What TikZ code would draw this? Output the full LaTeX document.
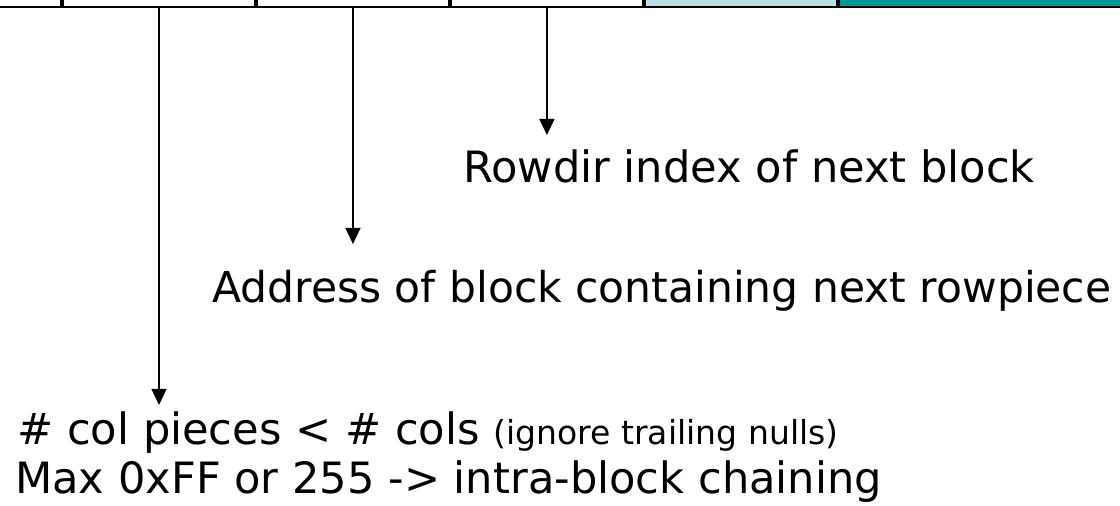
\documentclass[tikz,border=0pt]{standalone}
\usepackage{fontspec}
\setmainfont{DejaVu Sans}
\usepackage{tikz}
\usetikzlibrary{arrows.meta,positioning}
\usepackage{xcolor}
\definecolor{paleteal}{HTML}{BBE0E3}
\definecolor{deepteal}{HTML}{009999}

\begin{document}
\begin{tikzpicture}[node distance=0pt,
  cell/.style={draw,line width=1.4pt,rectangle,minimum width=4.8cm,minimum height=1.2cm,inner sep=0pt},
  ptr/.style={-{Triangle[width=0.375cm,length=0.4cm]},line width=1pt},
  note/.style={anchor=base west,inner sep=0pt,font=\fontsize{30.7}{36}\selectfont}]
  \useasboundingbox (0,0) rectangle (28,12.65);
  \clip (0,0) rectangle (28,12.65);
  % row header cells, cut off at the top edge
  \node[cell,anchor=south east] (flag) at (1.55,12.44) {};
  \node[cell,right=of flag] (ncols) {};
  \node[cell,right=of ncols] (nrid) {};
  \node[cell,right=of nrid] (nslot) {};
  \node[cell,right=of nslot,fill=paleteal] (colA) {};
  \node[cell,right=of colA,fill=deepteal,minimum width=8cm] (colB) {};
  % where the pointers end
  \coordinate (slottip) at (nslot.south |- 0,9.275);
  \coordinate (ridtip) at (nrid.south |- 0,6.55);
  \coordinate (colstip) at (ncols.south |- 0,2.525);
  \draw[ptr] (nslot.south) -- (slottip);
  \draw[ptr] (nrid.south) -- (ridtip);
  \draw[ptr] (ncols.south) -- (colstip);
  % labels
  \node[note] (slottxt) at (11.575,8.075) {Rowdir index of next block};
  \node[note,font=\fontsize{30.2}{36}\selectfont] (ridtxt) at (5.3,5.075) {Address of block containing next rowpiece};
  \node[note] (colstxt) at (0.425,1.525) {\# col pieces < \# cols {\fontsize{23.5}{28}\selectfont (ignore trailing nulls)}};
  \node[note] (maxtxt) at (0.375,0.3) {Max 0xFF or 255 -> intra-block chaining};
\end{tikzpicture}
\end{document}
